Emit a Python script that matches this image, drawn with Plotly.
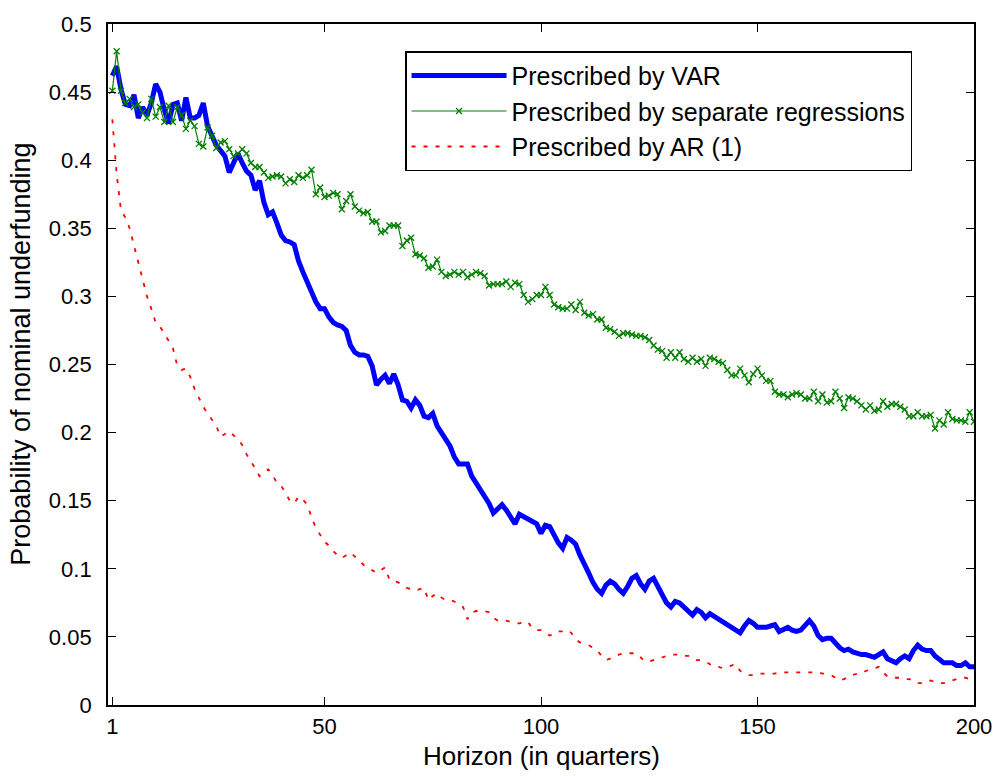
import plotly.graph_objects as go

# Horizon in quarters
horizon = list(range(1, 201))

# Probability of nominal underfunding, one value per quarter
var_prob = [
    0.462, 0.469, 0.452, 0.441, 0.440, 0.448, 0.431, 0.439, 0.433, 0.442,
    0.456, 0.450, 0.437, 0.427, 0.441, 0.442, 0.429, 0.446, 0.431, 0.431,
    0.433, 0.442, 0.425, 0.417, 0.411, 0.407, 0.403, 0.391, 0.398, 0.405,
    0.398, 0.392, 0.389, 0.378, 0.385, 0.369, 0.360, 0.362, 0.354, 0.345,
    0.341, 0.340, 0.338, 0.326, 0.318, 0.310, 0.303, 0.296, 0.291, 0.291,
    0.285, 0.281, 0.279, 0.278, 0.275, 0.264, 0.259, 0.257, 0.257, 0.256,
    0.249, 0.235, 0.239, 0.242, 0.236, 0.243, 0.235, 0.224, 0.223, 0.218,
    0.224, 0.220, 0.212, 0.211, 0.214, 0.205, 0.200, 0.195, 0.190, 0.182,
    0.177, 0.177, 0.177, 0.168, 0.163, 0.159, 0.154, 0.148, 0.141, 0.144,
    0.147, 0.143, 0.138, 0.133, 0.140, 0.138, 0.137, 0.135, 0.133, 0.126,
    0.132, 0.131, 0.124, 0.119, 0.115, 0.123, 0.121, 0.118, 0.110, 0.104,
    0.097, 0.090, 0.085, 0.082, 0.088, 0.091, 0.089, 0.085, 0.082, 0.087,
    0.093, 0.095, 0.089, 0.085, 0.091, 0.093, 0.087, 0.081, 0.075, 0.072,
    0.076, 0.075, 0.072, 0.068, 0.066, 0.070, 0.068, 0.064, 0.067, 0.065,
    0.063, 0.061, 0.060, 0.058, 0.055, 0.053, 0.058, 0.062, 0.060, 0.057,
    0.057, 0.057, 0.058, 0.059, 0.054, 0.056, 0.057, 0.055, 0.054, 0.055,
    0.059, 0.062, 0.058, 0.051, 0.048, 0.049, 0.049, 0.045, 0.042, 0.040,
    0.041, 0.039, 0.038, 0.037, 0.037, 0.036, 0.035, 0.037, 0.039, 0.034,
    0.032, 0.031, 0.034, 0.036, 0.034, 0.040, 0.044, 0.041, 0.040, 0.040,
    0.036, 0.034, 0.031, 0.031, 0.031, 0.029, 0.029, 0.031, 0.028, 0.028,
]

sep_reg_prob = [
    0.451, 0.480, 0.451, 0.442, 0.445, 0.439, 0.441, 0.435, 0.431, 0.445,
    0.432, 0.439, 0.428, 0.440, 0.428, 0.439, 0.433, 0.423, 0.429, 0.425,
    0.412, 0.410, 0.424, 0.418, 0.409, 0.413, 0.414, 0.408, 0.403, 0.405,
    0.408, 0.405, 0.398, 0.395, 0.395, 0.391, 0.387, 0.388, 0.389, 0.388,
    0.383, 0.386, 0.384, 0.389, 0.387, 0.389, 0.393, 0.375, 0.380, 0.373,
    0.374, 0.376, 0.375, 0.364, 0.370, 0.375, 0.366, 0.363, 0.361, 0.362,
    0.355, 0.355, 0.347, 0.348, 0.352, 0.352, 0.352, 0.337, 0.341, 0.343,
    0.331, 0.330, 0.328, 0.321, 0.322, 0.327, 0.318, 0.315, 0.316, 0.318,
    0.316, 0.318, 0.314, 0.316, 0.318, 0.317, 0.315, 0.308, 0.309, 0.309,
    0.309, 0.311, 0.307, 0.310, 0.309, 0.301, 0.296, 0.298, 0.301, 0.301,
    0.307, 0.301, 0.294, 0.292, 0.291, 0.291, 0.294, 0.290, 0.296, 0.288,
    0.286, 0.287, 0.283, 0.283, 0.277, 0.276, 0.274, 0.271, 0.273, 0.273,
    0.272, 0.271, 0.271, 0.270, 0.268, 0.264, 0.261, 0.260, 0.255, 0.259,
    0.255, 0.259, 0.254, 0.252, 0.255, 0.252, 0.254, 0.249, 0.255, 0.254,
    0.252, 0.251, 0.246, 0.242, 0.242, 0.247, 0.242, 0.237, 0.243, 0.247,
    0.242, 0.238, 0.238, 0.230, 0.228, 0.228, 0.226, 0.228, 0.229, 0.228,
    0.225, 0.225, 0.230, 0.223, 0.228, 0.222, 0.223, 0.230, 0.225, 0.218,
    0.226, 0.225, 0.223, 0.220, 0.217, 0.220, 0.216, 0.217, 0.223, 0.219,
    0.221, 0.221, 0.219, 0.217, 0.212, 0.212, 0.215, 0.212, 0.212, 0.213,
    0.203, 0.209, 0.206, 0.215, 0.210, 0.209, 0.209, 0.208, 0.215, 0.208,
]

ar1_prob = [
    0.430, 0.390, 0.363, 0.358, 0.350, 0.337, 0.325, 0.313, 0.300, 0.291,
    0.281, 0.278, 0.273, 0.267, 0.262, 0.249, 0.246, 0.247, 0.241, 0.232,
    0.225, 0.219, 0.214, 0.209, 0.205, 0.197, 0.199, 0.201, 0.198, 0.195,
    0.191, 0.184, 0.179, 0.173, 0.168, 0.170, 0.173, 0.169, 0.163, 0.161,
    0.156, 0.150, 0.148, 0.153, 0.151, 0.147, 0.138, 0.130, 0.125, 0.120,
    0.117, 0.113, 0.110, 0.108, 0.110, 0.112, 0.109, 0.106, 0.103, 0.101,
    0.099, 0.097, 0.099, 0.101, 0.092, 0.091, 0.090, 0.088, 0.086, 0.085,
    0.084, 0.085, 0.086, 0.077, 0.080, 0.082, 0.079, 0.077, 0.077, 0.076,
    0.074, 0.072, 0.063, 0.068, 0.069, 0.069, 0.069, 0.068, 0.064, 0.062,
    0.062, 0.062, 0.061, 0.060, 0.060, 0.061, 0.061, 0.056, 0.055, 0.055,
    0.053, 0.051, 0.052, 0.054, 0.054, 0.055, 0.053, 0.048, 0.046, 0.045,
    0.044, 0.042, 0.040, 0.036, 0.033, 0.034, 0.035, 0.037, 0.038, 0.038,
    0.038, 0.038, 0.035, 0.032, 0.032, 0.033, 0.034, 0.035, 0.036, 0.037,
    0.037, 0.037, 0.036, 0.036, 0.035, 0.033, 0.033, 0.032, 0.030, 0.028,
    0.028, 0.027, 0.028, 0.029, 0.030, 0.025, 0.023, 0.022, 0.022, 0.023,
    0.023, 0.023, 0.023, 0.023, 0.024, 0.024, 0.024, 0.024, 0.024, 0.024,
    0.024, 0.024, 0.024, 0.024, 0.023, 0.023, 0.022, 0.020, 0.018, 0.019,
    0.021, 0.022, 0.023, 0.023, 0.025, 0.026, 0.027, 0.028, 0.024, 0.021,
    0.021, 0.020, 0.020, 0.019, 0.019, 0.018, 0.016, 0.016, 0.017, 0.018,
    0.017, 0.016, 0.016, 0.017, 0.018, 0.019, 0.020, 0.020, 0.019, 0.021,
]

x_ticks = [1, 50, 100, 150, 200]
y_ticks = [0, 0.05, 0.1, 0.15, 0.2, 0.25, 0.3, 0.35, 0.4, 0.45, 0.5]
y_tick_text = ["0", "0.05", "0.1", "0.15", "0.2", "0.25", "0.3", "0.35", "0.4", "0.45", "0.5"]

FONT = "Liberation Sans, Arial, Helvetica, sans-serif"

fig = go.Figure()

fig.add_trace(go.Scatter(
    x=horizon, y=var_prob, mode="lines",
    name="Prescribed by VAR",
    line=dict(color="#0000FF", width=5),
))

fig.add_trace(go.Scatter(
    x=horizon, y=sep_reg_prob, mode="lines+markers",
    name="Prescribed by separate regressions",
    line=dict(color="#008000", width=1.2),
    marker=dict(symbol="x-thin", size=6, color="#008000",
                line=dict(color="#008000", width=1.3)),
))

fig.add_trace(go.Scatter(
    x=horizon, y=ar1_prob, mode="lines",
    name="Prescribed by AR (1)",
    line=dict(color="#FF0000", width=1.8, dash="4px,8px"),
))

axis_common = dict(
    showline=True, linecolor="black", linewidth=1.8, mirror="ticks",
    ticks="inside", ticklen=8, tickwidth=1, tickcolor="black",
    showgrid=False, zeroline=False,
    tickfont=dict(family=FONT, size=22, color="black"),
)

fig.update_xaxes(range=[0, 200], tickmode="array", tickvals=x_ticks,
                 ticklabelstandoff=1, **axis_common)
fig.update_yaxes(range=[0, 0.5], tickmode="array", tickvals=y_ticks,
                 ticktext=y_tick_text, ticklabelstandoff=10, **axis_common)

fig.add_annotation(
    text="Horizon (in quarters)", xref="paper", yref="paper",
    x=0.5, y=-0.05, xanchor="center", yanchor="top", showarrow=False,
    font=dict(family=FONT, size=26, color="black"),
)
fig.add_annotation(
    text="Probability of nominal underfunding", xref="paper", yref="paper",
    x=-0.1, y=0.515, xanchor="center", yanchor="middle", showarrow=False,
    textangle=-90, font=dict(family=FONT, size=27, color="black"),
)

fig.update_layout(
    width=1004, height=776, autosize=False,
    margin=dict(l=108, r=26, t=20, b=71),
    paper_bgcolor="white", plot_bgcolor="white",
    font=dict(family=FONT, color="black"),
    legend=dict(
        x=0.343, y=0.96, xanchor="left", yanchor="top",
        bgcolor="white", bordercolor="black", borderwidth=1.5,
        font=dict(family=FONT, size=25, color="black"),
        itemwidth=95,
    ),
    showlegend=True,
)

fig.write_html("out.html")
